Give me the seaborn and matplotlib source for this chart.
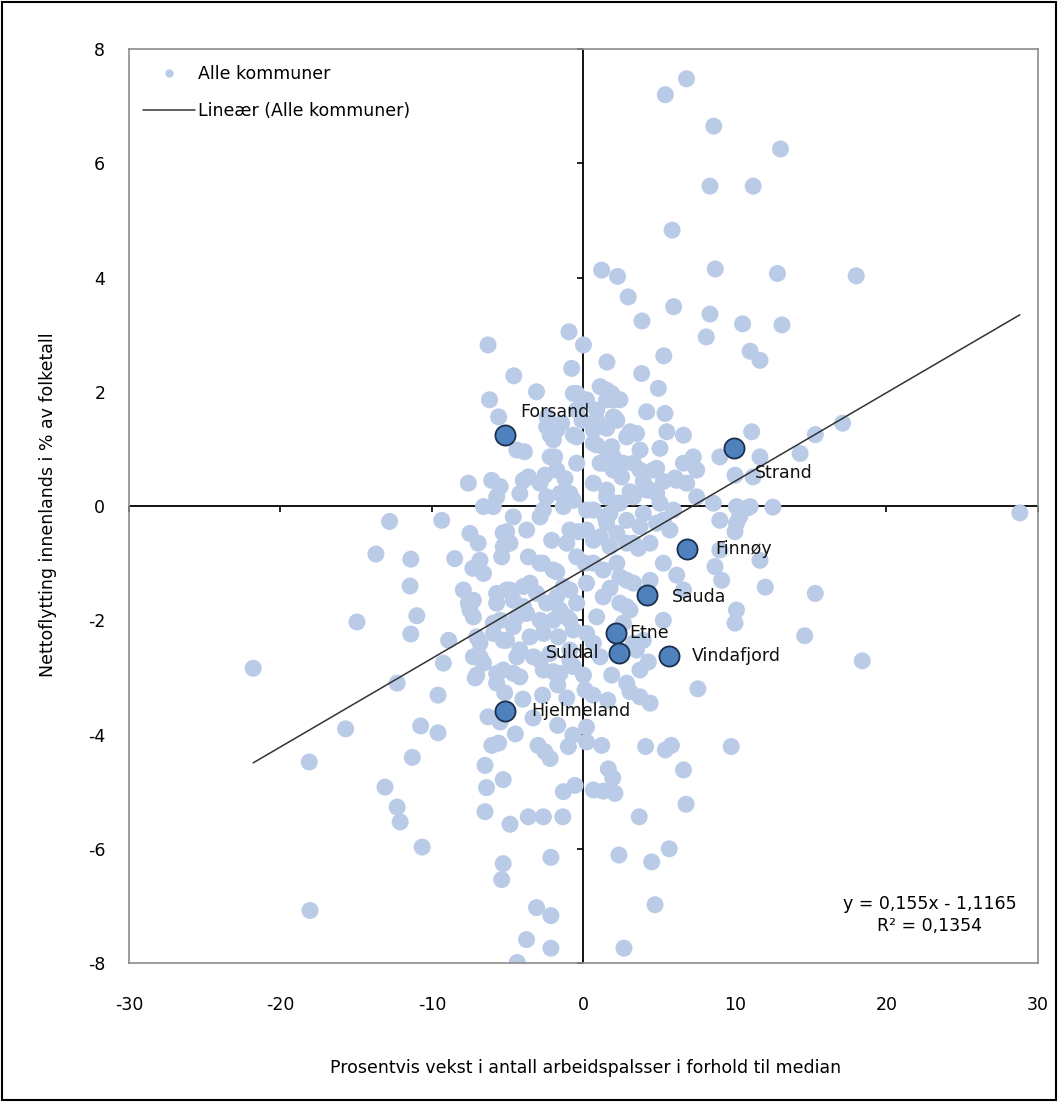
import numpy as np
import pandas as pd
import seaborn as sns
import matplotlib.pyplot as plt
from matplotlib.lines import Line2D
from matplotlib.patches import Rectangle

# all municipalities: job growth vs. median (x), net domestic migration % (y)
x_all = [
    6.8, 5.4, 8.6, 13.0, 8.35, 11.2, 5.85, 1.2, 2.25, 8.7, 12.8, 18.0, 13.1, 2.95, 5.95, 8.35, 3.86,
    10.5, 8.1, 11.0, 11.65, 5.3, 1.55, -0.96, 0.0, -6.3,
    -0.78, 3.84, -4.6, 4.94, 1.1, -3.1, -0.45, 1.86, 2.4, -6.2, 0.2, -5.6, -2.4, -1.44, -0.45, -0.1,
    0.87, 2.08, 4.17, 5.38,
    3.07, 3.5, 1.53, 5.5, 6.6, 11.1, -2.2, -0.67, -4.4, -3.9, 0.87, 1.86, 5.05, 17.1, 15.3,
    9.0, 11.65, -1.9, 7.25, 7.47, 6.6, -0.45, 1.3, 2.2, 3.3, 4.83, -3.64, -2.54, 2.52, 10.0, 14.3,
    -7.6, -6.06, -1.22, 0.65, 3.95, 5.27, 6.15, -4.2, -5.73, -0.9, 1.53, 3.07, 4.83, 7.47, 8.57,
    11.0, 12.5, -6.6, -1.33, 0.2,
    -9.36, -12.8, -4.63, -2.87, 1.42, 3.95, 5.27, 9.0, 10.1, 28.8, -7.5, -5.07, -3.75, -0.34, 2.2,
    5.7, 10.0,
    -13.7, -11.4, -6.95, -5.3, -2.1, -1.1, 0.65, 1.75, 3.62, 9.0, -8.5, -6.83, -5.4, -3.64, -2.87,
    -0.45, 0.1, 2.2, 5.27, 8.68, 11.65,
    -11.45, -6.6, -2.0, 1.3, 2.85, 4.4, 6.15, 9.12, -7.93, -4.85, -3.53, -1.33, 0.2, 1.75, 6.6,
    12.0, 15.3,
    -11.0, -7.6, -5.73, -3.97, -2.43, -0.45, 2.85, 10.1, -7.27, -4.4, -2.87, -0.9, 0.87, 5.27,
    -14.95, -11.4, -8.9, -5.95, 2.63, 10.0, 14.6, -7.05, -5.3, -3.53, -1.66, 0.2, 3.95,
    -21.8, -9.25, -6.83, -4.4, -2.87, -0.9, 1.1, 3.5, 4.28, 18.4, -7.05, -5.73, -4.63, -2.0, 0.0, 1.86,
    -12.3, -9.6, 7.55, -7.15, -5.2, -4.0, -2.7, -1.7, -1.1, 0.1, 0.63, 1.6, 3.07, 3.73, 4.4,
    -15.7, -10.75, -9.6, -6.3, -5.5, -3.33, -1.7, 0.2, -4.5, -0.7,
    -18.1, -11.3, -6.05, -5.6, -3.0, -2.55, -2.2, -1.0, 0.2, 1.2, 4.1, 5.4, 5.8, 9.75,
    -6.5, 1.64, 1.93, 6.6, -5.3, -6.4, -13.1, -12.3, -12.1, -1.33, -0.56, 0.65, 1.3, 2.08, 6.77,
    -6.5, -4.85, -3.64, -2.65, -1.37, 3.68, -10.65, 5.66, 2.34, 4.5, -2.15, -5.3, -5.4, 4.72, -3.1,
    -2.15, -18.05, -3.76, -2.15, 2.67, -4.37,
]
y_all = [
    7.48, 7.2, 6.65, 6.25, 5.6, 5.6, 4.83, 4.13, 4.02, 4.15, 4.07, 4.03, 3.17, 3.66, 3.49, 3.36, 3.24,
    3.19, 2.96, 2.71, 2.55, 2.63, 2.52, 3.05, 2.82, 2.82,
    2.41, 2.32, 2.28, 2.06, 2.09, 2.0, 1.97, 1.97, 1.86, 1.86, 1.86, 1.56, 1.56, 1.45, 1.68, 1.5,
    1.5, 1.54, 1.65, 1.62,
    1.3, 1.27, 1.36, 1.3, 1.24, 1.3, 1.24, 1.24, 0.98, 0.95, 1.07, 1.04, 1.01, 1.45, 1.25,
    0.86, 0.86, 0.86, 0.86, 0.63, 0.75, 0.75, 0.75, 0.75, 0.75, 0.66, 0.51, 0.54, 0.51, 0.54, 0.92,
    0.4, 0.45, 0.48, 0.4, 0.43, 0.43, 0.45, 0.22, 0.16, 0.22, 0.28, 0.25, 0.22, 0.16, 0.05,
    -0.01, -0.02, -0.01, -0.01, -0.07,
    -0.25, -0.27, -0.19, -0.19, -0.19, -0.13, -0.25, -0.25, -0.3, -0.12, -0.48, -0.45, -0.42, -0.45,
    -0.48, -0.42, -0.45,
    -0.84, -0.93, -0.65, -0.71, -0.6, -0.65, -0.6, -0.71, -0.74, -0.77, -0.92, -0.95, -0.89, -0.89,
    -1.0, -0.89, -1.0, -1.0, -1.0, -1.06, -0.95,
    -1.4, -1.18, -1.12, -1.12, -1.3, -1.3, -1.21, -1.3, -1.47, -1.47, -1.35, -1.41, -1.35, -1.44,
    -1.47, -1.42, -1.53,
    -1.92, -1.7, -1.7, -1.76, -1.7, -1.7, -1.76, -1.82, -1.94, -1.94, -2.0, -2.0, -1.94, -2.0,
    -2.03, -2.24, -2.35, -2.05, -2.05, -2.05, -2.27, -2.29, -2.35, -2.29, -2.29, -2.23, -2.35,
    -2.84, -2.75, -2.64, -2.64, -2.7, -2.7, -2.64, -2.52, -2.73, -2.71, -2.96, -2.93, -2.93, -2.9,
    -2.96, -2.96,
    -3.1, -3.31, -3.2, -3.01, -3.27, -3.38, -3.31, -3.13, -3.36, -3.22, -3.31, -3.4, -3.25, -3.34, -3.45,
    -3.9, -3.85, -3.97, -3.69, -3.78, -3.71, -3.84, -3.87, -3.99, -4.01,
    -4.48, -4.4, -4.19, -4.15, -4.19, -4.3, -4.42, -4.21, -4.13, -4.19, -4.21, -4.27, -4.19, -4.21,
    -4.54, -4.6, -4.76, -4.62, -4.79, -4.93, -4.92, -5.27, -5.53, -5.0, -4.89, -4.97, -4.99, -5.03,
    -5.22, -5.35, -5.57, -5.44, -5.44, -5.44, -5.44, -5.97, -6.0, -6.11, -6.23, -6.15, -6.26, -6.54,
    -6.98, -7.03, -7.17, -7.08, -7.59, -7.74, -7.74, -7.99,
]

# the crowded middle of the cloud
x_core = [
    -5.3, -4.85, -7.3, -2.7, -1.77, -0.9, 0.2, 1.1, 2.85, 0.65, 2.4, 3.3, 1.3, 2.4, 3.07,
    -7.27, -7.5, -5.73, -5.07, -4.63, -3.97, -3.09, -1.77, -0.9, -1.55, -3.75, -1.99, -1.1,
    -5.5, -4.63, -5.95, -5.07, -2.65, -0.67, -6.83, -7.27, -6.6, -4.2, -3.3, -2.2, -0.9, 0.65,
    -5.3, -4.2, -2.65, -1.55, -0.67, -5.73, 3.3, 3.73, 2.85,
    -0.67, 1.53, 1.97, 0.87, -2.43, -1.77, -0.45, -1.99, 0.65, -2.2, -1.77,
    0.65, 1.53, 1.1, 1.97, 2.85, 3.73, 2.63, -5.5, -3.97, -2.87,
    -2.43, -1.55, -0.67, 1.53, 2.4, 3.3, 4.17, -5.95, -2.65, 0.65, 1.75,
    1.97, 1.53, 2.2, 7.03, 11.2, 1.97, 3.73, 4.61, 6.04, 6.81, 10.1, 10.77,
    2.2, 4.39, 5.05, 5.93, 10.3, 1.53, 2.85, 3.73, 4.83, 4.39, 3.3,
]
y_core = [
    -0.47, -0.65, -1.09, -1.0, -1.15, -0.42, -0.42, -0.54, -0.65, -1.0, -1.24, -1.35, -1.59, -1.7, -1.82,
    -1.65, -1.82, -1.53, -1.47, -1.65, -1.41, -1.53, -1.59, -1.47, -1.82, -1.88, -2.0, -1.94,
    -2.0, -2.11, -2.23, -2.35, -2.23, -2.17, -2.4, -2.64, -2.75, -2.52, -2.64, -2.58, -2.52, -2.4,
    -2.87, -2.99, -2.87, -2.93, -2.81, -3.1, -2.4, -2.87, -3.1,
    1.97, 1.86, 1.56, 1.68, 1.39, 1.33, 1.21, 1.16, 1.33, 0.86, 0.63,
    1.1, 0.98, 0.75, 0.63, 1.21, 0.98, 0.75, 0.34, 0.45, 0.4,
    0.16, 0.22, 0.1, 0.16, 0.05, 0.16, 0.28, -0.01, -0.07, -0.07, -0.13,
    1.86, 2.03, 1.5, 0.75, 0.51, 0.86, 0.63, 0.63, 0.49, 0.4, -0.01, -0.04,
    0.05, 0.28, 0.05, -0.07, -0.19, -0.3, -0.25, -0.36, -0.3, -0.65, -0.65,
]

# Rogaland municipalities shown with names
names = ["Forsand", "Strand", "Finnøy", "Sauda", "Etne", "Suldal", "Vindafjord", "Hjelmeland"]
x_named = [-5.2, 9.93, 6.85, 4.2, 2.12, 2.36, 5.66, -5.2]
y_named = [1.24, 1.01, -0.75, -1.56, -2.23, -2.58, -2.62, -3.58]

# trendline reported in the chart
slope = 0.155
intercept = -1.1165
r2 = 0.1354

x_ticks = [-30, -20, -10, 0, 10, 20, 30]
y_ticks = [-8, -6, -4, -2, 0, 2, 4, 6, 8]

df = pd.DataFrame({"x": x_all + x_core, "y": y_all + y_core})
named = pd.DataFrame({"x": x_named, "y": y_named, "navn": names})
xr = np.array([df["x"].min(), df["x"].max()])
trend = pd.DataFrame({"x": xr, "y": slope * xr + intercept})

sns.set_style("white")
plt.rcParams["font.family"] = ["DejaVu Sans"]
plt.rcParams["axes.unicode_minus"] = False
plt.rcParams["text.color"] = "black"
plt.rcParams["xtick.color"] = "black"
plt.rcParams["ytick.color"] = "black"
fs = 12.5

fig = plt.figure(figsize=(10.58, 11.02), dpi=100)
ax = fig.add_axes([0.1219, 0.1261, 0.8592, 0.8294])

light = "#B9CBE7"
dark = "#4F81BD"

sns.scatterplot(data=df, x="x", y="y", ax=ax, color=light, s=150, edgecolor="none",
                alpha=1, zorder=2, legend=False)
sns.lineplot(data=trend, x="x", y="y", ax=ax, color="#333333", linewidth=1.1, zorder=3,
             legend=False)
sns.scatterplot(data=named, x="x", y="y", ax=ax, color=dark, s=210, edgecolor="#1B2F4E",
                linewidth=1.3, zorder=4, legend=False)

# labels next to the named points (offsets in points)
offsets = {
    "Forsand": ((11, 17), "left"),
    "Strand": ((15, -18), "left"),
    "Finnøy": ((20, 0), "left"),
    "Sauda": ((18, -1), "left"),
    "Etne": ((10, 0), "left"),
    "Suldal": ((-14, 0), "right"),
    "Vindafjord": ((16, 0), "left"),
    "Hjelmeland": ((19, 0), "left"),
}
for _, r in named.iterrows():
    off, ha = offsets[r["navn"]]
    ax.annotate(r["navn"], (r["x"], r["y"]), xytext=off, textcoords="offset points",
                ha=ha, va="center", fontsize=fs, color="#111111", zorder=5)

# axes crossing at zero, Excel style
ax.axhline(0, color="black", linewidth=1.3, zorder=1)
ax.axvline(0, color="black", linewidth=1.3, zorder=1)
ax.plot(x_ticks, [0] * len(x_ticks), linestyle="none", marker=3, markersize=4,
        markeredgewidth=1.2, color="black", zorder=1, clip_on=False)
ax.plot([0] * len(y_ticks), y_ticks, linestyle="none", marker=0, markersize=4,
        markeredgewidth=1.2, color="black", zorder=1, clip_on=False)

ax.set_xlim(-30, 30)
ax.set_ylim(-8, 8)
ax.set_xticks(x_ticks)
ax.set_yticks(y_ticks)
ax.set_xticklabels([str(t) for t in x_ticks])
ax.set_yticklabels([str(t) for t in y_ticks])
ax.tick_params(axis="x", length=0, pad=24, labelsize=fs, labelcolor="black")
ax.tick_params(axis="y", length=0, pad=17, labelsize=fs, labelcolor="black")
ax.set_xlabel("")
ax.set_ylabel("")
for sp in ax.spines.values():
    sp.set_color("#8C8C8C")
    sp.set_linewidth(1.2)

ax.text(0.881, 0.0525, f"y = 0,155x - 1,1165\nR² = {str(r2).replace('.', ',')}",
        transform=ax.transAxes, ha="center", va="center", fontsize=fs,
        linespacing=1.3, multialignment="center")

handles = [
    Line2D([], [], linestyle="none", marker="o", markersize=6, color=light,
           markeredgecolor="none"),
    Line2D([], [], color="#333333", linewidth=1.1),
]
ax.legend(handles, ["Alle kommuner", "Lineær (Alle kommuner)"], loc="upper left",
          bbox_to_anchor=(0.0154, 0.9825), frameon=False, fontsize=fs, borderpad=0,
          borderaxespad=0, handlelength=3.0, handletextpad=0.17, labelspacing=1.1)

fig.text(0.553, 0.0309, "Prosentvis vekst i antall arbeidspalsser i forhold til median",
         ha="center", va="center", fontsize=fs)
fig.text(0.0454, 0.5417, "Nettoflytting innenlands i % av folketall",
         ha="center", va="center", rotation=90, fontsize=fs)

fig.patches.append(Rectangle((0.002, 0.002), 0.996, 0.996, transform=fig.transFigure,
                             fill=False, edgecolor="black", linewidth=1.5))

fig.savefig("out.png", dpi=100)
